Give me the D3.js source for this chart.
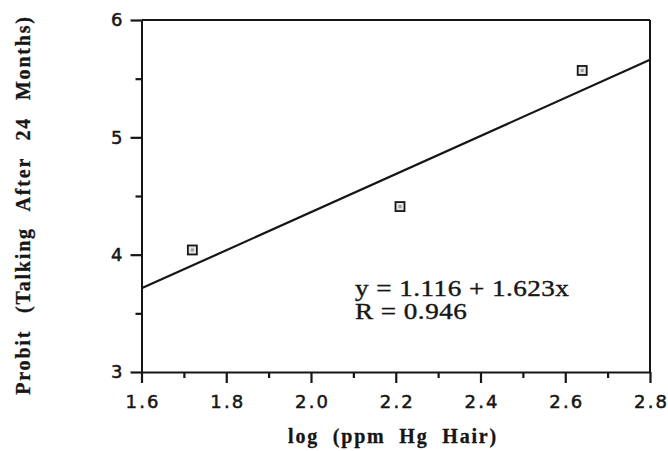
<!DOCTYPE html>
<html>
<head>
<meta charset="utf-8">
<script src="https://cdn.jsdelivr.net/npm/d3@7"></script>
<style>
  html, body { margin: 0; padding: 0; background: #fff; overflow: hidden; }
  svg { display: block; }
</style>
</head>
<body>
<svg id="chart" width="668" height="451"></svg>
<script>
// Observed points: log10 of hair mercury (ppm) vs probit of late talking
const logHg = [1.72, 2.21, 2.64];
const probit = [4.04, 4.41, 5.57];

// Fitted regression line y = a + b x
const intercept = 1.116;
const slope = 1.623;
const corrR = 0.946;

// Axis ticks
const xMajorTicks = [1.6, 1.8, 2.0, 2.2, 2.4, 2.6, 2.8];
const xMinorTicks = [1.7, 1.9, 2.1, 2.3, 2.5, 2.7];
const yMajorTicks = [3, 4, 5, 6];
const yMinorTicks = [3.5, 4.5, 5.5];

const xTitle = "log (ppm Hg Hair)";
const yTitle = "Probit (Talking After 24 Months)";

const ink = "#161616";
const svg = d3.select("#chart");

const x = d3.scaleLinear().domain([1.6, 2.8]).range([141.5, 650]);
const y = d3.scaleLinear().domain([3, 6]).range([372, 20]);

// Frame: top and right borders
svg.append("line")
  .attr("x1", x(1.6)).attr("x2", x(2.8))
  .attr("y1", y(6)).attr("y2", y(6))
  .attr("stroke", ink).attr("stroke-width", 2);
svg.append("line")
  .attr("x1", x(2.8)).attr("x2", x(2.8))
  .attr("y1", y(6)).attr("y2", y(3))
  .attr("stroke", ink).attr("stroke-width", 2);

// Shared axis styling
function styleAxis(g) {
  g.select(".domain").attr("stroke", ink).attr("stroke-width", 2);
  g.selectAll(".tick line").attr("stroke", ink).attr("stroke-width", 2.2);
  g.selectAll(".tick text")
    .attr("fill", ink)
    .style("stroke", ink)
    .style("stroke-width", "0.5px")
    .style("font-family", "'DejaVu Sans', sans-serif")
    .style("font-size", "18px");
}

// Bottom axis: minor then major ticks, pointing outward
svg.append("g")
  .attr("transform", `translate(0,${y(3)})`)
  .call(d3.axisBottom(x).tickValues(xMinorTicks).tickSize(6).tickFormat(() => ""))
  .call(g => g.select(".domain").remove())
  .call(styleAxis);
svg.append("g")
  .attr("transform", `translate(0,${y(3)})`)
  .call(d3.axisBottom(x).tickValues(xMajorTicks).tickSizeInner(11).tickSizeOuter(0)
        .tickPadding(12).tickFormat(d3.format(".1f")))
  .call(styleAxis)
  .call(g => g.selectAll(".tick text").style("letter-spacing", "2.2px").attr("dx", "1.1px"));

// Left axis: minor then major ticks, pointing outward
svg.append("g")
  .attr("transform", `translate(${x(1.6)},0)`)
  .call(d3.axisLeft(y).tickValues(yMinorTicks).tickSize(6).tickFormat(() => ""))
  .call(g => g.select(".domain").remove())
  .call(styleAxis);
svg.append("g")
  .attr("transform", `translate(${x(1.6)},0)`)
  .call(d3.axisLeft(y).tickValues(yMajorTicks).tickSizeInner(11).tickSizeOuter(0)
        .tickPadding(8).tickFormat(d3.format("d")))
  .call(styleAxis);

// Regression line across the full x range
const [x0, x1] = x.domain();
svg.append("line")
  .attr("x1", x(x0)).attr("y1", y(intercept + slope * x0))
  .attr("x2", x(x1)).attr("y2", y(intercept + slope * x1))
  .attr("stroke", ink).attr("stroke-width", 2.2);

// Square markers
const pts = logHg.map((v, i) => ({ x: v, y: probit[i] }));
const m = svg.append("g").selectAll("g").data(pts).join("g")
  .attr("transform", d => `translate(${x(d.x)},${y(d.y)})`);
m.append("rect")
  .attr("x", -4.5).attr("y", -4.5).attr("width", 9).attr("height", 9)
  .attr("fill", "#e4e4e4").attr("stroke", ink).attr("stroke-width", 1.8);
m.append("rect")
  .attr("x", -1.5).attr("y", -1.5).attr("width", 3).attr("height", 3)
  .attr("fill", "#9a9a9a");

// Regression equation (slightly widened serif face)
const eq = svg.append("text")
  .attr("transform", "translate(355,296) scale(1.18,1)")
  .style("font-family", "'Liberation Serif', 'Times New Roman', serif")
  .style("font-size", "23px")
  .style("letter-spacing", "0.4px")
  .style("stroke", ink).style("stroke-width", "0.4px")
  .attr("fill", ink);
eq.append("tspan").attr("x", 0).attr("y", 0)
  .text(`y = ${intercept.toFixed(3)} + ${slope.toFixed(3)}x`);
eq.append("tspan").attr("x", 0).attr("y", 23)
  .text(`R = ${corrR.toFixed(3)}`);

// Axis titles
svg.append("text")
  .attr("x", 393).attr("y", 443)
  .attr("text-anchor", "middle")
  .style("font-family", "'Liberation Serif', 'Times New Roman', serif")
  .style("font-weight", "bold")
  .style("font-size", "20px")
  .style("letter-spacing", "1.8px")
  .style("word-spacing", "7px")
  .style("stroke", ink).style("stroke-width", "0.3px")
  .attr("fill", ink)
  .text(xTitle);

svg.append("text")
  .attr("transform", "translate(30,205) rotate(-90)")
  .attr("text-anchor", "middle")
  .style("font-family", "'Liberation Serif', 'Times New Roman', serif")
  .style("font-weight", "bold")
  .style("font-size", "20px")
  .style("letter-spacing", "1.8px")
  .style("word-spacing", "10px")
  .style("stroke", ink).style("stroke-width", "0.3px")
  .attr("fill", ink)
  .text(yTitle);
</script>
</body>
</html>
